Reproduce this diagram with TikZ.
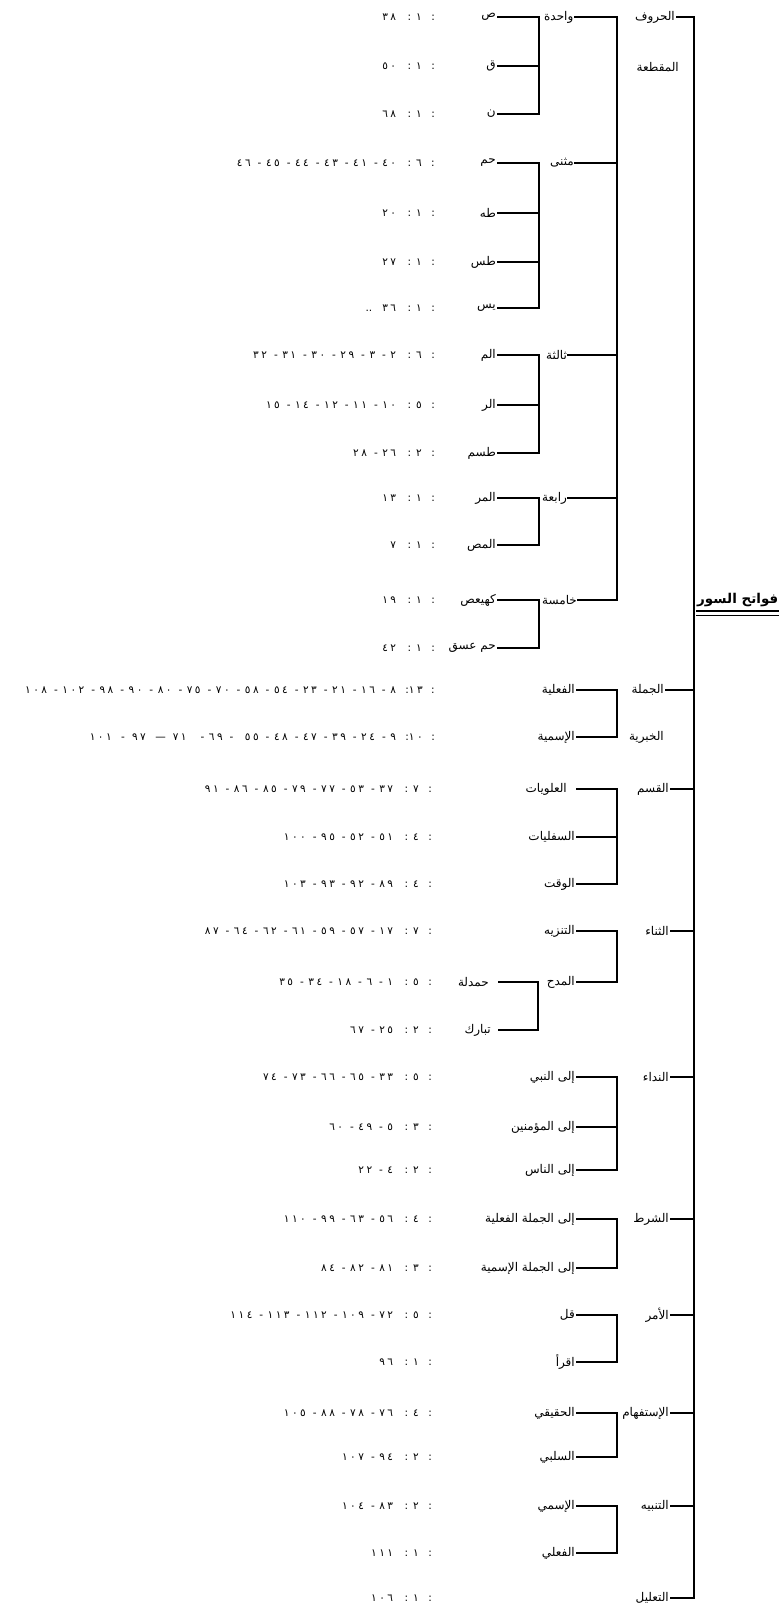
\documentclass[tikz,border=0pt]{standalone}
\usepackage{fontspec}
\newfontfamily\arf[Script=Arabic]{DejaVu Sans}
\newfontfamily\numf[Script=Arabic]{DejaVu Sans}
\TeXXeTstate=1
\newcommand{\R}[1]{\beginR #1\endR}
\newcommand{\hy}{\kern4.5pt-\kern4.5pt}
\def\dgs{2.5pt}
\def\dg#1{\beginL\dgloop#1\relax\endL}
\def\dgloop#1{\ifx#1\relax\else\ifx#1-\endL\hy\beginL\else#1\kern\dgs\fi\expandafter\dgloop\fi}
\newcommand{\NN}[2]{\beginR:\kern7pt\dg{#1}\kern5pt:\kern9pt #2\endR}
\newcommand{\NB}[2]{\beginR:\kern6pt\dg{#1}\kern0pt:\kern7pt #2\endR}
\tikzset{
  leaf/.style={inner sep=0pt, anchor=east, font=\arf\fontsize{12}{14}\selectfont},
  catw/.style={inner sep=0pt, anchor=west, font=\arf\fontsize{12}{14}\selectfont},
  cate/.style={inner sep=0pt, anchor=east, font=\arf\fontsize{12}{14}\selectfont},
  num/.style={inner sep=0pt, anchor=east, font=\numf\fontsize{10.5}{12}\selectfont},
  br/.style={line width=1.3pt, line cap=rect},
  mainl/.style={line width=2pt}
}
\begin{document}
\begin{tikzpicture}[x=1pt,y=-1pt]
\useasboundingbox (0,0) rectangle (779,1612);
\clip (0,0) rectangle (779,1612);
\fill[white] (0,0) rectangle (779,1612);

% ---------- coordinates of brackets ----------
\coordinate (mt) at (694,17);  \coordinate (mb) at (694,1598);
\coordinate (vt) at (617,17);  \coordinate (vb) at (617,600);
\coordinate (g1t) at (539,17);  \coordinate (g1b) at (539,114);
\coordinate (g2t) at (539,163); \coordinate (g2b) at (539,308);
\coordinate (g3t) at (539,355); \coordinate (g3b) at (539,453);
\coordinate (g4t) at (539,498); \coordinate (g4b) at (539,545);
\coordinate (g5t) at (539,600); \coordinate (g5b) at (539,648);
\coordinate (j1) at (617,690);  \coordinate (j2) at (617,737);
\coordinate (q1) at (617,789);  \coordinate (q2) at (617,884);
\coordinate (t1) at (617,931);  \coordinate (t2) at (617,982);
\coordinate (m1) at (538,982);  \coordinate (m2) at (538,1030);
\coordinate (n1) at (617,1077); \coordinate (n2) at (617,1170);
\coordinate (s1) at (617,1219); \coordinate (s2) at (617,1268);
\coordinate (a1) at (617,1315); \coordinate (a2) at (617,1362);
\coordinate (i1) at (617,1413); \coordinate (i2) at (617,1457);
\coordinate (k1) at (617,1506); \coordinate (k2) at (617,1553);
\coordinate (u1) at (696,611);  \coordinate (u2) at (779,611);
\coordinate (u3) at (696,615.5);\coordinate (u4) at (779,615.5);

% ---------- root ----------
\node[inner sep=0pt, anchor=west, font=\arf\bfseries\fontsize{13.5}{16}\selectfont] (root) at (697,600) {\R{فواتح السور}};
\draw[line width=2pt] (u1) -- (u2);
\draw[line width=1.2pt] (u3) -- (u4);
\draw[mainl] (mt) -- (mb);

% ---------- level 1 ----------
\node[cate] (L1) at (675,17) {\R{الحروف}};
\node[cate] (L1b) at (679,67) {\R{المقطعة}};
\node[cate] (L2) at (664,690) {\R{الجملة}};
\node[cate] (L2b) at (664,737) {\R{الخبرية}};
\node[cate] (L3) at (669,789) {\R{القسم}};
\node[cate] (L4) at (669,931) {\R{الثناء}};
\node[cate] (L5) at (669,1077) {\R{النداء}};
\node[cate] (L6) at (669,1219) {\R{الشرط}};
\node[cate] (L7) at (669,1315) {\R{الأمر}};
\node[cate] (L8) at (669,1413) {\R{الإستفهام}};
\node[cate] (L9) at (669,1506) {\R{التنبيه}};
\node[cate] (L10) at (669,1598) {\R{التعليل}};
\foreach \n in {L1,L2,L3,L4,L5,L6,L7,L8,L9,L10}
  \draw[br] ([xshift=2pt]\n.east) -- (\n.east -| mt);

% ---------- الحروف المقطعة ----------
\draw[br] (vt) -- (vb);
\node[catw] (w1) at (544,17) {\R{واحدة}};
\node[catw] (w2) at (550,163) {\R{مثنى}};
\node[catw] (w3) at (546,355) {\R{ثالثة}};
\node[catw] (w4) at (542,498) {\R{رابعة}};
\node[catw] (w5) at (542,600) {\R{خامسة}};
\foreach \n in {w1,w2,w3,w4,w5}
  \draw[br] ([xshift=1pt]\n.east) -- (\n.east -| vt);
\draw[br] (g1t) -- (g1b);
\draw[br] (g2t) -- (g2b);
\draw[br] (g3t) -- (g3b);
\draw[br] (g4t) -- (g4b);
\draw[br] (g5t) -- (g5b);

\node[leaf] (c1) at (496,17) {\R{ص}};
\node[leaf] (c2) at (496,66) {\R{ق}};
\node[leaf] (c3) at (496,114) {\R{ن}};
\node[leaf] (c4) at (496,163) {\R{حم}};
\node[leaf] (c5) at (496,213) {\R{طه}};
\node[leaf] (c6) at (496,262) {\R{طس}};
\node[leaf] (c7) at (496,308) {\R{يس}};
\node[leaf] (c8) at (496,355) {\R{الم}};
\node[leaf] (c9) at (496,405) {\R{الر}};
\node[leaf] (c10) at (496,453) {\R{طسم}};
\node[leaf] (c11) at (496,498) {\R{المر}};
\node[leaf] (c12) at (496,545) {\R{المص}};
\node[leaf] (c13) at (496,600) {\R{كهيعص}};
\node[leaf] (c14) at (496,648) {\R{حم عسق}};
\foreach \n in {c1,c2,c3,c4,c5,c6,c7,c8,c9,c10,c11,c12,c13,c14}
  \draw[br] ([xshift=2pt]\n.east) -- (\n.east -| g1t);

\node[num] (d1) at (435,17) {\NN{١}{\dg{٣٨}}};
\node[num] (d2) at (435,66) {\NN{١}{\dg{٥٠}}};
\node[num] (d3) at (435,114) {\NN{١}{\dg{٦٨}}};
\node[num] (d4) at (435,163) {\NN{٦}{\dg{٤٠-٤١-٤٣-٤٤-٤٥-٤٦}}};
\node[num] (d5) at (435,213) {\NN{١}{\dg{٢٠}}};
\node[num] (d6) at (435,262) {\NN{١}{\dg{٢٧}}};
\node[num] (d7) at (435,308) {\NN{١}{\dg{٣٦}\kern10pt..}};
\node[num] (d8) at (435,355) {\NN{٦}{\dg{٢-٣-٢٩-٣٠-٣١-٣٢}}};
\node[num] (d9) at (435,405) {\NN{٥}{\dg{١٠-١١-١٢-١٤-١٥}}};
\node[num] (d10) at (435,453) {\NN{٢}{\dg{٢٦-٢٨}}};
\node[num] (d11) at (435,498) {\NN{١}{\dg{١٣}}};
\node[num] (d12) at (435,545) {\NN{١}{\dg{٧}}};
\node[num] (d13) at (435,600) {\NN{١}{\dg{١٩}}};
\node[num] (d14) at (435,648) {\NN{١}{\dg{٤٢}}};

% ---------- الجملة الخبرية ----------
\draw[br] (j1) -- (j2);
\node[leaf] (e1) at (575,690) {\R{الفعلية}};
\node[leaf] (e2) at (575,737) {\R{الإسمية}};
\node[num] (d15) at (435,690) {\NB{١٣}{\dg{٨-١٦-٢١-٢٣-٥٤-٥٨-٧٠-٧٥-٨٠-٩٠-٩٨-١٠٢-١٠٨}}};
\node[num] (d16) at (435,737) {\NB{١٠}{\dg{٩-٢٤-٣٩-٤٧-٤٨-٥٥}\kern7pt\dg{-٦٩-}\kern7pt\dg{٧١}\kern7pt—\kern7pt\dg{٩٧}\kern7pt-\kern7pt\dg{١٠١}}};

% ---------- القسم ----------
\draw[br] (q1) -- (q2);
\node[leaf] (e3) at (567,789) {\R{العلويات}};
\node[leaf] (e4) at (575,837) {\R{السفليات}};
\node[leaf] (e5) at (575,884) {\R{الوقت}};
\node[num] (d17) at (432,789) {\NN{٧}{\dg{٣٧-٥٣-٧٧-٧٩-٨٥-٨٦-٩١}}};
\node[num] (d18) at (432,837) {\NN{٤}{\dg{٥١-٥٢-٩٥-١٠٠}}};
\node[num] (d19) at (432,884) {\NN{٤}{\dg{٨٩-٩٢-٩٣-١٠٣}}};

% ---------- الثناء ----------
\draw[br] (t1) -- (t2);
\node[leaf] (e6) at (575,931) {\R{التنزيه}};
\node[leaf] (e7) at (575,982) {\R{المدح}};
\draw[br] (m1) -- (m2);
\node[leaf] (f1) at (489,982) {\R{حمدلة}};
\node[leaf] (f2) at (491,1030) {\R{تبارك}};
\draw[br] ([xshift=10pt]f1.east) -- (f1.east -| m1);
\draw[br] ([xshift=8pt]f2.east) -- (f2.east -| m1);
\node[num] (d20) at (432,931) {\NN{٧}{\dg{١٧-٥٧-٥٩-٦١-٦٢-٦٤-٨٧}}};
\node[num] (d21) at (432,982) {\NN{٥}{\dg{١-٦-١٨-٣٤-٣٥}}};
\node[num] (d22) at (432,1030) {\NN{٢}{\dg{٢٥-٦٧}}};

% ---------- النداء ----------
\draw[br] (n1) -- (n2);
\node[leaf] (e8) at (575,1077) {\R{إلى النبي}};
\node[leaf] (e9) at (575,1127) {\R{إلى المؤمنين}};
\node[leaf] (e10) at (575,1170) {\R{إلى الناس}};
\node[num] (d23) at (432,1077) {\NN{٥}{\dg{٣٣-٦٥-٦٦-٧٣-٧٤}}};
\node[num] (d24) at (432,1127) {\NN{٣}{\dg{٥-٤٩-٦٠}}};
\node[num] (d25) at (432,1170) {\NN{٢}{\dg{٤-٢٢}}};

% ---------- الشرط ----------
\draw[br] (s1) -- (s2);
\node[leaf] (e11) at (575,1219) {\R{إلى الجملة الفعلية}};
\node[leaf] (e12) at (575,1268) {\R{إلى الجملة الإسمية}};
\node[num] (d26) at (432,1219) {\NN{٤}{\dg{٥٦-٦٣-٩٩-١١٠}}};
\node[num] (d27) at (432,1268) {\NN{٣}{\dg{٨١-٨٢-٨٤}}};

% ---------- الأمر ----------
\draw[br] (a1) -- (a2);
\node[leaf] (e13) at (575,1315) {\R{قل}};
\node[leaf] (e14) at (575,1362) {\R{اقرأ}};
\node[num] (d28) at (432,1315) {\NN{٥}{\dg{٧٢-١٠٩-١١٢-١١٣-١١٤}}};
\node[num] (d29) at (432,1362) {\NN{١}{\dg{٩٦}}};

% ---------- الإستفهام ----------
\draw[br] (i1) -- (i2);
\node[leaf] (e15) at (575,1413) {\R{الحقيقي}};
\node[leaf] (e16) at (575,1457) {\R{السلبي}};
\node[num] (d30) at (432,1413) {\NN{٤}{\dg{٧٦-٧٨-٨٨-١٠٥}}};
\node[num] (d31) at (432,1457) {\NN{٢}{\dg{٩٤-١٠٧}}};

% ---------- التنبيه ----------
\draw[br] (k1) -- (k2);
\node[leaf] (e17) at (575,1506) {\R{الإسمي}};
\node[leaf] (e18) at (575,1553) {\R{الفعلي}};
\node[num] (d32) at (432,1506) {\NN{٢}{\dg{٨٣-١٠٤}}};
\node[num] (d33) at (432,1553) {\NN{١}{\dg{١١١}}};

% ---------- التعليل ----------
\node[num] (d34) at (432,1598) {\NN{١}{\dg{١٠٦}}};

\foreach \n/\b in {e1/j1,e2/j1,e4/q1,e5/q1,e6/t1,e7/t1,e8/n1,e9/n1,e10/n1,e11/s1,e12/s1,e13/a1,e14/a1,e15/i1,e16/i1,e17/k1,e18/k1}
  \draw[br] ([xshift=2pt]\n.east) -- (\n.east -| \b);
\draw[br] ([xshift=10pt]e3.east) -- (e3.east -| q1);
\end{tikzpicture}
\end{document}
